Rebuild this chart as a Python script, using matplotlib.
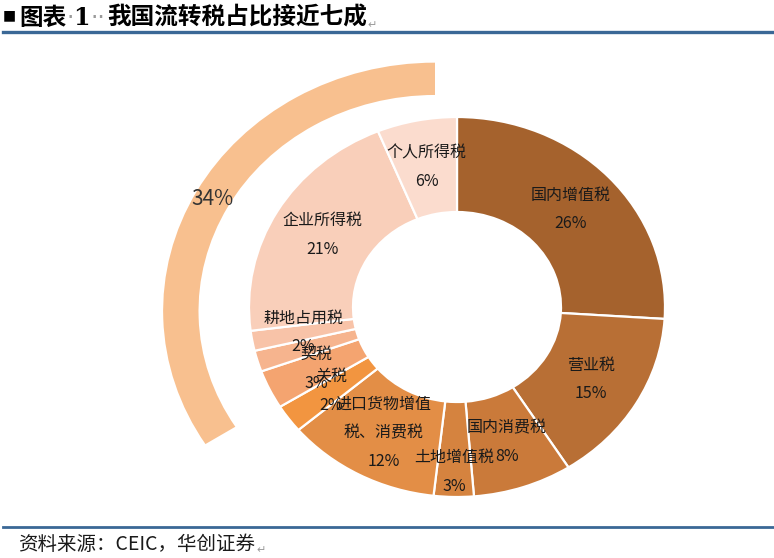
import matplotlib
matplotlib.use('Agg')
import matplotlib.pyplot as plt
from matplotlib.lines import Line2D

plt.rcParams['font.family'] = ['Noto Sans CJK SC', 'DejaVu Sans']

# ---- data ----
categories = ['国内增值税', '营业税', '国内消费税', '土地增值税', '进口货物增值\n税、消费税',
              '关税', '契税', '', '耕地占用税', '企业所得税', '个人所得税']
shares = [26.0, 15.0, 7.7, 3.1, 12.0, 2.4, 3.3, 1.8, 1.7, 20.8, 6.2]
pct_labels = ['26%', '15%', '8%', '3%', '12%', '2%', '3%', '', '2%', '21%', '6%']
colors = ['#A5622D', '#B86F35', '#CA7A3A', '#D5833F', '#E38E46', '#F29540',
          '#F4A470', '#F6B48E', '#F8C3A8', '#F9CFBA', '#FBDCCE']
outer_values = [34, 66]
outer_labels = ['34%', '']
outer_colors = ['#F8C08F', 'none']

title_parts = ['图表', '1', '我国流转税占比接近七成']
source_text = '资料来源：CEIC，华创证券'

# ---- figure ----
W, H = 774, 558
fig = plt.figure(figsize=(W / 100, H / 100), dpi=100)
ax = fig.add_axes([0, 0, 1, 1])

cx, cy, rx, ry = 457, 307, 208, 190


def px2d(px, py):
    return ((px - cx) / rx, (cy - py) / ry)


labels = [f"{c}\n{p}" if c else "" for c, p in zip(categories, pct_labels)]
wedges, texts = ax.pie(shares, labels=labels, colors=colors, startangle=90,
                       counterclock=False, radius=1.0,
                       wedgeprops=dict(width=0.5, edgecolor='white', linewidth=1.6),
                       labeldistance=0.75,
                       textprops=dict(fontsize=11.5, color='#1a1a1a'))
for t in texts:
    t.set_ha('center')
    t.set_va('center')
    t.set_linespacing(1.9)
# Excel pushed the 土地增值税 label slightly lower
x0, y0 = texts[3].get_position()
texts[3].set_position((x0, y0 - 0.12))

ocx, ocy = px2d(435, 311)
_, otexts = ax.pie(outer_values, labels=outer_labels, colors=outer_colors,
                   startangle=90, counterclock=True, radius=1.307, center=(ocx, ocy),
                   wedgeprops=dict(width=0.17, edgecolor='none'),
                   labeldistance=0.935,
                   textprops=dict(fontsize=15, color='#333333'))
for t in otexts:
    t.set_ha('center')
    t.set_va('center')

ax.set_aspect('auto')
ax.set_xlim(px2d(0, 0)[0], px2d(W, 0)[0])
ax.set_ylim(px2d(0, H)[1], px2d(0, 0)[1])
ax.axis('off')

# ---- rules ----
fig.add_artist(Line2D([3 / W, 1], [1 - 31.5 / H] * 2, transform=fig.transFigure,
                      color='#3A6896', lw=2.4))
fig.add_artist(Line2D([3 / W, 1], [1 - 527 / H] * 2, transform=fig.transFigure,
                      color='#3A6896', lw=2.0))

# ---- title ----
tsize = 17
fig.text(3 / W, 1 - 15 / H, '■', fontsize=10, color='black', va='center',
         ha='left', family=['DejaVu Sans'])
t0 = fig.text(19 / W, 1 - 25 / H, title_parts[0], fontsize=tsize, fontweight='bold',
              color='black', va='baseline', ha='left')
dot_kw = dict(fontsize=tsize, color='#9a9a9a', family=['DejaVu Sans'])
pieces = [('·', dot_kw, 0),
          (title_parts[1], dict(fontsize=tsize, fontweight='bold', color='black',
                                family=['DejaVu Serif']), 0),
          ('··', dot_kw, 0),
          (title_parts[2], dict(fontsize=tsize, fontweight='bold', color='black'), 2),
          ('↵', dict(fontsize=8, color='#999999', family=['DejaVu Sans']), 0)]
prev = t0
for s, kw, dx in pieces:
    prev = ax.annotate(s, xy=(1, 0), xycoords=prev, xytext=(dx, 0),
                       textcoords='offset points', va='bottom', ha='left',
                       annotation_clip=False, **kw)

# ---- source ----
s0 = fig.text(18 / W, 1 - 545 / H, source_text, fontsize=14, color='#1a1a1a',
              va='center', ha='left', fontstyle='italic')
ax.annotate('↵', xy=(1, 0), xycoords=s0, xytext=(1, 0), textcoords='offset points',
            va='bottom', ha='left', fontsize=8, color='#999999',
            family=['DejaVu Sans'], annotation_clip=False)

fig.savefig('out.png', dpi=100)
